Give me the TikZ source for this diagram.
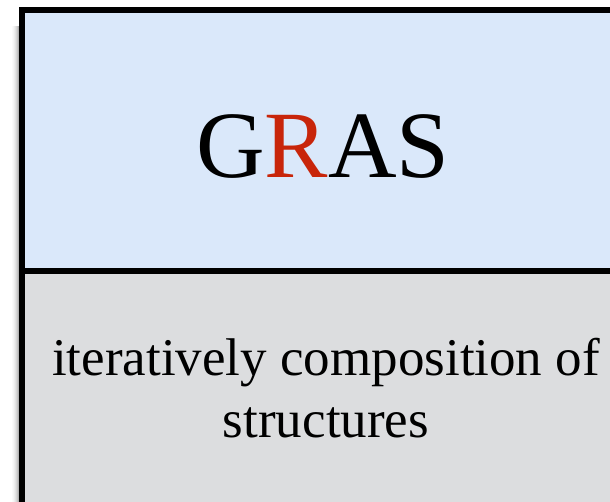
\documentclass[tikz,border=0pt]{standalone}
\usepackage{fontspec}
\setmainfont{Liberation Serif}
\definecolor{headblue}{RGB}{218,232,250}
\definecolor{bodygray}{RGB}{220,221,223}
\definecolor{accentred}{RGB}{200,37,10}
\tikzset{
  frame/.style={draw=black, line width=6pt},
  title/.style={inner sep=0pt, anchor=base, font=\fontsize{95}{100}\selectfont},
  caption/.style={inner sep=0pt, anchor=base, align=center, font=\fontsize{53}{62}\selectfont}
}
\begin{document}
\begin{tikzpicture}[x=1pt,y=1pt]
  \useasboundingbox (0,0) rectangle (610,501);
  \clip (0,0) rectangle (610,501);
  \fill[white] (0,0) rectangle (610,501);
  % soft shadow along the left side
  \foreach \d/\o in {1/0.30,2/0.22,3/0.16,4/0.11,5/0.07,6/0.04,7/0.02}
    \fill[black, opacity=\o] (19-\d,-20) rectangle (20-\d,475);
  % two-part panel
  \fill[headblue] (22,229.5) rectangle (650,490.5);
  \fill[bodygray] (22,-30) rectangle (650,229.5);
  \draw[frame] (22,-30) -- (22,490.5) -- (650,490.5);
  \draw[frame] (22,229.5) -- (650,229.5);
  % labels (base anchor of the caption sits on its last line)
  \node[title] (name) at (323,323) {G\textcolor{accentred}{R}AS};
  \node[caption] (desc) at (326,64) {iteratively composition of\\structures};
\end{tikzpicture}
\end{document}
